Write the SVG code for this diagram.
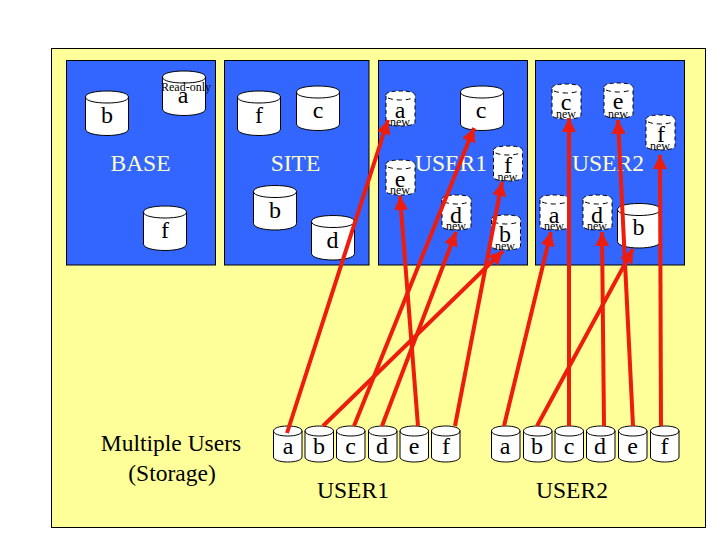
<svg xmlns="http://www.w3.org/2000/svg" width="720" height="540" viewBox="0 0 720 540">
<style>
text{font-family:"Liberation Serif","Times New Roman",serif;fill:#000;text-anchor:middle}
.panel{fill:#3366ff;stroke:#000;stroke-width:1}
.big{font-size:24px}
.lab{font-size:23.5px}
.wl{font-size:23.5px;fill:#ffffcc}
.sm{font-size:12px}
.cyl{fill:#fff;stroke:#000;stroke-width:1}
.top{fill:none;stroke:#000;stroke-width:1}
.dcyl{fill:#fff;stroke:#000;stroke-width:1;stroke-dasharray:4 3}
.dtop{fill:none;stroke:#000;stroke-width:1;stroke-dasharray:5 4}
.con{stroke:#ee1c0c;stroke-width:4;fill:none;marker-end:url(#ah)}
</style>
<defs>
<marker id="ah" markerUnits="userSpaceOnUse" markerWidth="15" markerHeight="16" refX="14" refY="8" orient="auto"><path d="M0 1L14 8L0 15Z" fill="#ee1c0c"/></marker>
<g id="c-big"><path class="cyl" d="M0 6C0 2 10 0 21.5 0S43 2 43 6V38C43 42 33 44.500 21.500 44.500S0 42 0 38Z"/><path class="top" d="M0 6C0 10 10 12 21.500 12S43 10 43 6"/></g>
<g id="c-low"><path class="cyl" d="M0 5C0 2 6 0 14.250 0S28.500 2 28.500 5V31C28.500 34 22 36 14.250 36S0 34 0 31Z"/><path class="top" d="M0 5C0 8 6 10 14.250 10S28.500 8 28.500 5"/></g>
<g id="c-new"><path class="dcyl" d="M0 4C0 1.500 6 0 14.500 0S29 1.500 29 4V31C29 33.500 23 35 14.500 35S0 33.500 0 31Z"/><path class="dtop" d="M2 7C6 8.500 10 9 14.500 9S23 8.500 27 7"/></g>
</defs>
<rect width="720" height="540" fill="#fff"/>
<rect id="background" x="51.500" y="48.500" width="654" height="479" fill="#ffff99" stroke="#000"/>
<g id="BASE"><rect class="panel" x="66.500" y="60.500" width="149" height="204.500"/><text class="wl" x="140.500" y="171">BASE</text></g>
<g id="SITE"><rect class="panel" x="224.500" y="60.500" width="144.500" height="204.500"/><text class="wl" x="295.500" y="171">SITE</text></g>
<g id="USER1"><rect class="panel" x="378.500" y="60.500" width="149" height="204.500"/><text class="wl" x="451" y="171">USER1</text></g>
<g id="USER2"><rect class="panel" x="535.500" y="60.500" width="149" height="204.500"/><text class="wl" x="608" y="171">USER2</text></g>

<g id="base-b"><use href="#c-big" x="85.500" y="91"/><text class="big" x="107" y="123">b</text></g>
<g id="base-a"><use href="#c-big" x="162.500" y="71"/><text class="big" x="183" y="103">a</text><text class="sm" x="186" y="91">Read-only</text></g>
<g id="base-f"><use href="#c-big" x="143.500" y="206"/><text class="big" x="165" y="238">f</text></g>
<g id="site-f"><use href="#c-big" x="237.500" y="91"/><text class="big" x="259" y="123">f</text></g>
<g id="site-c"><use href="#c-big" x="296.500" y="86"/><text class="big" x="318" y="118">c</text></g>
<g id="site-b"><use href="#c-big" x="253.500" y="185.500"/><text class="big" x="275" y="218">b</text></g>
<g id="site-d"><use href="#c-big" x="311.500" y="215.500"/><text class="big" x="332.500" y="248">d</text></g>
<g id="u1-c"><use href="#c-big" x="460.500" y="86"/><text class="big" x="481" y="118">c</text></g>
<g id="u2-b"><use href="#c-big" x="617.500" y="203.500"/><text class="big" x="638.500" y="235">b</text></g>

<g id="u1-a"><use href="#c-new" x="386" y="91"/><text class="big" x="400" y="118">a</text><text class="sm" x="400" y="126">new</text></g>
<g id="u1-e"><use href="#c-new" x="386" y="160"/><text class="big" x="400" y="187">e</text><text class="sm" x="400" y="194">new</text></g>
<g id="u1-f"><use href="#c-new" x="493.500" y="146"/><text class="big" x="508" y="173">f</text><text class="sm" x="507.500" y="181">new</text></g>
<g id="u1-d"><use href="#c-new" x="442" y="195"/><text class="big" x="456" y="223">d</text><text class="sm" x="456" y="230">new</text></g>
<g id="u1-b"><use href="#c-new" x="491.500" y="215"/><text class="big" x="505" y="242">b</text><text class="sm" x="505" y="250">new</text></g>
<g id="u2-c"><use href="#c-new" x="552" y="84"/><text class="big" x="566" y="110">c</text><text class="sm" x="566" y="118">new</text></g>
<g id="u2-e"><use href="#c-new" x="604" y="83"/><text class="big" x="618" y="109">e</text><text class="sm" x="618" y="118">new</text></g>
<g id="u2-f"><use href="#c-new" x="646" y="115"/><text class="big" x="661" y="142">f</text><text class="sm" x="660" y="150">new</text></g>
<g id="u2-a"><use href="#c-new" x="540" y="195"/><text class="big" x="554" y="223">a</text><text class="sm" x="554" y="230">new</text></g>
<g id="u2-d"><use href="#c-new" x="583" y="195"/><text class="big" x="597" y="223">d</text><text class="sm" x="597" y="230">new</text></g>

<g id="s1-a"><use href="#c-low" x="273.500" y="426"/><text class="big" x="288" y="454">a</text></g>
<g id="s1-b"><use href="#c-low" x="305" y="426"/><text class="big" x="319" y="454">b</text></g>
<g id="s1-c"><use href="#c-low" x="336.500" y="426"/><text class="big" x="350.500" y="454">c</text></g>
<g id="s1-d"><use href="#c-low" x="368.500" y="426"/><text class="big" x="382" y="454">d</text></g>
<g id="s1-e"><use href="#c-low" x="400" y="426"/><text class="big" x="414" y="454">e</text></g>
<g id="s1-f"><use href="#c-low" x="431.500" y="426"/><text class="big" x="446" y="454">f</text></g>
<g id="s2-a"><use href="#c-low" x="491.500" y="426"/><text class="big" x="505" y="454">a</text></g>
<g id="s2-b"><use href="#c-low" x="523.500" y="426"/><text class="big" x="537" y="454">b</text></g>
<g id="s2-c"><use href="#c-low" x="555" y="426"/><text class="big" x="569" y="454">c</text></g>
<g id="s2-d"><use href="#c-low" x="586.500" y="426"/><text class="big" x="600" y="454">d</text></g>
<g id="s2-e"><use href="#c-low" x="618.500" y="426"/><text class="big" x="632.500" y="454">e</text></g>
<g id="s2-f"><use href="#c-low" x="650.500" y="426"/><text class="big" x="664.500" y="454">f</text></g>

<g id="storage-labels">
<text class="lab" x="171" y="451">Multiple Users</text>
<text class="lab" x="172" y="481">(Storage)</text>
<text class="lab" x="353" y="498">USER1</text>
<text class="lab" x="572" y="498">USER2</text>
</g>

<g id="connectors">
<line class="con" x1="287" y1="433" x2="388" y2="120"/>
<line class="con" x1="323" y1="426" x2="503" y2="251"/>
<line class="con" x1="354" y1="426" x2="474" y2="128"/>
<line class="con" x1="382" y1="426" x2="456" y2="232"/>
<line class="con" x1="418" y1="426" x2="400" y2="196"/>
<line class="con" x1="455" y1="426" x2="502" y2="182"/>
<line class="con" x1="504" y1="426" x2="551" y2="232"/>
<line class="con" x1="537" y1="426" x2="633" y2="249"/>
<line class="con" x1="569" y1="426" x2="569" y2="118"/>
<line class="con" x1="604" y1="426" x2="602" y2="232"/>
<line class="con" x1="633" y1="426" x2="618" y2="120"/>
<line class="con" x1="661" y1="426" x2="660" y2="155"/>
</g>
</svg>
